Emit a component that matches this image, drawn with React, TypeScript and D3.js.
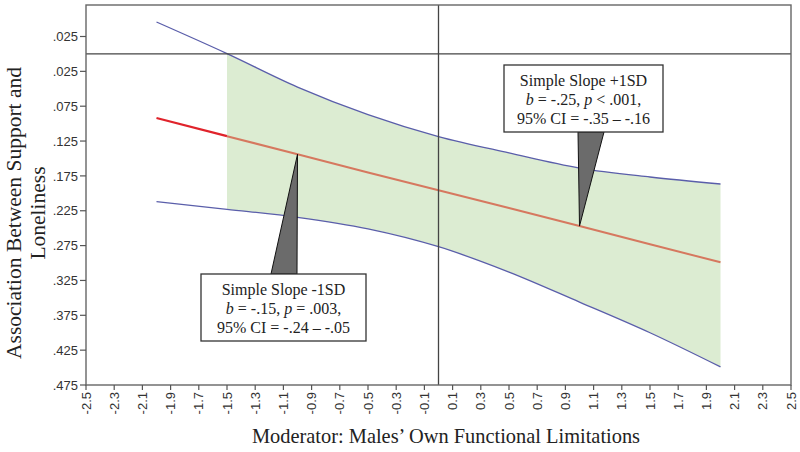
import React from "react";
import * as d3 from "d3";

// ---- data ----
const xTicks: number[] = [-2.5, -2.3, -2.1, -1.9, -1.7, -1.5, -1.3, -1.1, -0.9, -0.7, -0.5, -0.3, -0.1, 0.1, 0.3, 0.5, 0.7, 0.9, 1.1, 1.3, 1.5, 1.7, 1.9, 2.1, 2.3, 2.5];
const yTickValues: number[] = [0.025, -0.025, -0.075, -0.125, -0.175, -0.225, -0.275, -0.325, -0.375, -0.425, -0.475];
const yTickLabels: string[] = [".025", ".025", ".075", ".125", ".175", ".225", ".275", ".325", ".375", ".425", ".475"];

const moderator: number[] = [-2, -1.5, -1, -0.5, 0, 0.5, 1, 1.5, 2];
const simpleSlope: number[] = [-0.092, -0.118, -0.144, -0.170, -0.1955, -0.221, -0.247, -0.273, -0.299];
const upperCI: number[] = [0.0458, 0.0005, -0.0475, -0.087, -0.1185, -0.142, -0.1637, -0.1766, -0.1866];
const lowerCI: number[] = [-0.212, -0.223, -0.2344, -0.251, -0.2766, -0.313, -0.356, -0.400, -0.449];
const regionStart = -1.5; // start of region of significance

const calloutHigh = { at: 1, lines: ["Simple Slope +1SD", "b = -.25, p < .001,", "95% CI = -.35 – -.16"] };
const calloutLow = { at: -1, lines: ["Simple Slope -1SD", "b = -.15, p = .003,", "95% CI = -.24 – -.05"] };

const W = 800, H = 452;
const L = 86, R = 791, T = 5, B = 385;

const x = d3.scaleLinear().domain([-2.5, 2.5]).range([L, R]);
const y = d3.scaleLinear().domain([-0.475, 0.025]).range([B, 36.5]);

type P = { x: number; m: number; u: number; l: number };
const rows: P[] = moderator.map((mx, i) => ({ x: mx, m: simpleSlope[i], u: upperCI[i], l: lowerCI[i] }));

const lineM = d3.line<P>().x(d => x(d.x)).y(d => y(d.m));
const lineU = d3.line<P>().x(d => x(d.x)).y(d => y(d.u)).curve(d3.curveMonotoneX);
const lineL = d3.line<P>().x(d => x(d.x)).y(d => y(d.l)).curve(d3.curveMonotoneX);
const area = d3.area<P>().x(d => x(d.x)).y0(d => y(d.l)).y1(d => y(d.u)).curve(d3.curveMonotoneX);

const sig = rows.filter(d => d.x >= regionStart);
const nonSig = rows.filter(d => d.x <= regionStart);

const slopeAt = (v: number) => {
  const i = moderator.indexOf(v);
  return simpleSlope[i];
};

const serif = "'Liberation Serif', 'Times New Roman', serif";
const sans = "'Liberation Sans', Arial, sans-serif";

function StyledLine({ text, x0, y0 }: { text: string; x0: number; y0: number }) {
  // italicize standalone b and p
  const parts = text.split(/(\bb\b|\bp\b)/);
  return (
    <text x={x0} y={y0} textAnchor="middle" fontFamily={serif} fontSize={16} fill="#222">
      {parts.map((p, i) => (p === "b" || p === "p" ? <tspan key={i} fontStyle="italic">{p}</tspan> : <tspan key={i}>{p}</tspan>))}
    </text>
  );
}

function Callout({ c, box, base }: { c: { at: number; lines: string[] }; box: { x0: number; y0: number; w: number; h: number }; base: { a: number; b: number; yb: number } }) {
  const tx = x(c.at), ty = y(slopeAt(c.at));
  const cx = box.x0 + box.w / 2;
  return (
    <g>
      <polygon points={`${tx},${ty} ${base.a},${base.yb} ${base.b},${base.yb}`} fill="#6b6b6b" stroke="#111" strokeWidth={1} />
      <rect x={box.x0} y={box.y0} width={box.w} height={box.h} fill="#fff" stroke="#333" strokeWidth={1.3} />
      {c.lines.map((t, i) => (
        <StyledLine key={i} text={t} x0={cx} y0={box.y0 + 21 + i * 19} />
      ))}
    </g>
  );
}

export default function App() {
  return (
    <svg width={W} height={H} style={{ position: "absolute", left: 0, top: 0, background: "#fff" }}>
      <rect x={0} y={0} width={W} height={H} fill="#fff" />
      {/* significance region */}
      <path d={area(sig) || ""} fill="#dcecd2" />
      {/* CI lines */}
      <path d={lineU(rows) || ""} fill="none" stroke="#5a5eaa" strokeWidth={1.3} />
      <path d={lineL(rows) || ""} fill="none" stroke="#5a5eaa" strokeWidth={1.3} />
      {/* simple slope */}
      <path d={lineM(nonSig) || ""} fill="none" stroke="#e0232b" strokeWidth={2.2} />
      <path d={lineM(sig) || ""} fill="none" stroke="#d6785f" strokeWidth={2} />
      {/* reference lines */}
      <line x1={L} x2={R} y1={y(0)} y2={y(0)} stroke="#444" strokeWidth={1.3} />
      <line x1={x(0)} x2={x(0)} y1={T} y2={B} stroke="#444" strokeWidth={1.3} />
      {/* frame */}
      <rect x={L} y={T} width={R - L} height={B - T} fill="none" stroke="#666" strokeWidth={1.4} />
      {/* y axis ticks */}
      {yTickValues.map((v, i) => (
        <g key={i}>
          <line x1={L - 6} x2={L} y1={y(v)} y2={y(v)} stroke="#555" strokeWidth={1.2} />
          <text x={L - 8} y={y(v)} dy="0.36em" textAnchor="end" fontFamily={sans} fontSize={13} fill="#333">{yTickLabels[i]}</text>
        </g>
      ))}
      {/* x axis ticks */}
      {xTicks.map((v, i) => (
        <g key={i}>
          <line x1={x(v)} x2={x(v)} y1={B} y2={B + 5} stroke="#555" strokeWidth={1.2} />
          <text transform={`translate(${x(v)},${B + 7}) rotate(-90)`} dy="0.36em" textAnchor="end" fontFamily={sans} fontSize={13} fill="#333">{v.toFixed(1)}</text>
        </g>
      ))}
      {/* axis titles */}
      <text transform="translate(21,213) rotate(-90)" textAnchor="middle" fontFamily={serif} fontSize={21.5} fill="#222">Association Between Support and</text>
      <text transform="translate(45,213) rotate(-90)" textAnchor="middle" fontFamily={serif} fontSize={21.5} fill="#222">Loneliness</text>
      <text x={446} y={443} textAnchor="middle" fontFamily={serif} fontSize={20.4} fill="#222">Moderator: Males’ Own Functional Limitations</text>
      {/* callouts */}
      <Callout c={calloutLow} box={{ x0: 201, y0: 274, w: 165, h: 67 }} base={{ a: 271, b: 297, yb: 274 }} />
      <Callout c={calloutHigh} box={{ x0: 504, y0: 65, w: 159, h: 67 }} base={{ a: 578, b: 604, yb: 132 }} />
    </svg>
  );
}
